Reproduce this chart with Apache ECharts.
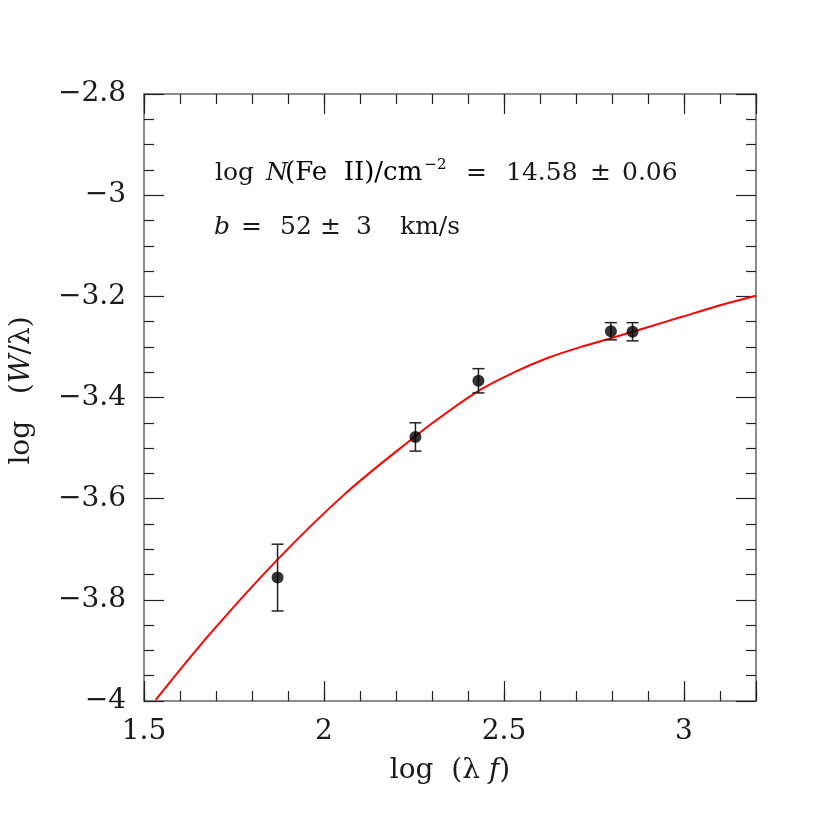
<!DOCTYPE html>
<html style="height: 100%">
  <head>
    <meta charset="utf-8" />
  </head>
  <body style="height: 100%; margin: 0; background: #fff">
    <div id="container" style="width: 830px; height: 830px"></div>

    <script src="https://cdn.jsdelivr.net/npm/echarts@6/dist/echarts.min.js"></script>
    <script type="text/javascript">
      // measured lines (log lambda f, log W/lambda, 1-sigma error)
      var obsX = [1.871, 2.254, 2.429, 2.797, 2.857];
      var obsY = [-3.756, -3.478, -3.367, -3.269, -3.270];
      var obsErr = [0.066, 0.028, 0.024, 0.017, 0.018];

      // curve of growth fit
      var fitX = [1.5325, 1.685, 1.87, 2.056, 2.251, 2.325, 2.436, 2.529, 2.621, 2.714, 2.806, 2.899, 2.992, 3.084, 3.2];
      var fitY = [-3.998, -3.866, -3.721, -3.592, -3.478, -3.438, -3.384, -3.35, -3.322, -3.3, -3.281, -3.261, -3.241, -3.221, -3.199];

      var xMajorTicks = [1.5, 2, 2.5, 3];

      var font = "DejaVu Serif";
      var ink = "#1a1a1a";
      var dom = document.getElementById("container");
      var myChart = echarts.init(dom);

      var points = [];
      for (var i = 0; i < obsX.length; i++) {
        points.push([obsX[i], obsY[i], obsErr[i]]);
      }
      var fit = [];
      for (var j = 0; j < fitX.length; j++) {
        fit.push([fitX[j], fitY[j]]);
      }

      function minus(v) {
        return String(v).replace("-", "\u2212");
      }

      var titleRich = {
        n: { fontFamily: font, fontSize: 28, color: ink },
        i: { fontFamily: font, fontSize: 28, fontStyle: "italic", color: ink },
      };

      function xAx(pos, major, showLabel, withName) {
        var ax = {
          type: "value",
          position: pos,
          min: 1.5,
          max: 3.2,
          interval: major ? 0.5 : 0.1,
          axisLine: { show: major, lineStyle: { color: "#666", width: 1.5 } },
          axisTick: {
            show: true,
            inside: true,
            length: major ? 20 : 10,
            lineStyle: { color: "#222", width: 1.2 },
          },
          splitLine: { show: false },
          axisLabel: {
            show: showLabel,
            margin: 17,
            fontFamily: font,
            fontSize: 28,
            color: ink,
            formatter: function (v) {
              return xMajorTicks.indexOf(Math.round(v * 10) / 10) >= 0 ? String(v) : "";
            },
          },
        };
        if (withName) {
          ax.name = "{n|log  (λ }{i|f}{n|)}";
          ax.nameLocation = "middle";
          ax.nameGap = 56;
          ax.nameTextStyle = { rich: titleRich };
        }
        return ax;
      }

      function yAx(pos, showLabel, withName) {
        var ax = {
          type: "value",
          position: pos,
          min: -4,
          max: -2.8,
          interval: 0.2,
          axisLine: { show: true, lineStyle: { color: "#666", width: 1.5 } },
          axisTick: {
            show: true,
            inside: true,
            length: 20,
            lineStyle: { color: "#222", width: 1.2 },
          },
          minorTick: {
            show: true,
            splitNumber: 4,
            length: 10,
            lineStyle: { color: "#222", width: 1.2 },
          },
          splitLine: { show: false },
          axisLabel: {
            show: showLabel,
            margin: 18,
            fontFamily: font,
            fontSize: 28,
            color: ink,
            formatter: function (v) {
              return minus(Math.round(v * 10) / 10);
            },
          },
        };
        if (withName) {
          ax.name = "{n|log   (}{i|W}{n|/λ)}";
          ax.nameLocation = "middle";
          ax.nameGap = 108;
          ax.nameTextStyle = { rich: titleRich, padding: [0, 0, 0, 14] };
        }
        return ax;
      }

      // annotation pieces placed where they sit in the original
      var noteStyle = { fontFamily: font, fontSize: 25, fill: ink };
      function note(x, y, text, italic) {
        return {
          type: "text",
          x: x,
          y: y,
          style: Object.assign({}, noteStyle, {
            text: text,
            verticalAlign: "middle",
            fontStyle: italic ? "italic" : "normal",
          }),
        };
      }

      var option = {
        animation: false,
        backgroundColor: "#fff",
        grid: { left: 143, top: 94, right: 74, bottom: 129 },
        xAxis: [
          xAx("bottom", true, true, true),
          xAx("bottom", false, false, false),
          xAx("top", true, false, false),
          xAx("top", false, false, false),
        ],
        yAxis: [yAx("left", true, true), yAx("right", false, false)],
        graphic: [
          note(215, 173, "log"),
          note(266, 173, "N", true),
          {
            type: "text",
            x: 285,
            y: 173,
            style: {
              text: "{n|(Fe  II)/cm}{s|−2}",
              verticalAlign: "middle",
              rich: {
                n: { fontFamily: font, fontSize: 26, color: ink, lineHeight: 30 },
                s: { fontFamily: font, fontSize: 15, color: ink, verticalAlign: "top", lineHeight: 30, padding: [0, 0, 0, 2] },
              },
            },
          },
          note(466, 173, "="),
          note(506, 173, "14.58"),
          note(590, 173, "±"),
          note(622, 173, "0.06"),
          note(214, 227, "b", true),
          note(241, 227, "="),
          note(280, 227, "52"),
          note(320, 227, "±"),
          note(356, 227, "3"),
          note(400, 227, "km/s"),
        ],
        series: [
          {
            type: "line",
            data: fit,
            symbol: "none",
            smooth: 0.35,
            xAxisIndex: 0,
            yAxisIndex: 0,
            lineStyle: { color: "#ff0000", width: 2 },
            z: 2,
          },
          {
            type: "custom",
            data: points,
            xAxisIndex: 0,
            yAxisIndex: 0,
            z: 3,
            renderItem: function (params, api) {
              var x = api.value(0);
              var y = api.value(1);
              var e = api.value(2);
              var top = api.coord([x, y + e]);
              var bot = api.coord([x, y - e]);
              var w = 6;
              var st = { stroke: "#222", lineWidth: 1.5 };
              return {
                type: "group",
                children: [
                  { type: "line", shape: { x1: top[0], y1: top[1], x2: bot[0], y2: bot[1] }, style: st },
                  { type: "line", shape: { x1: top[0] - w, y1: top[1], x2: top[0] + w, y2: top[1] }, style: st },
                  { type: "line", shape: { x1: bot[0] - w, y1: bot[1], x2: bot[0] + w, y2: bot[1] }, style: st },
                ],
              };
            },
          },
          {
            type: "scatter",
            data: points,
            xAxisIndex: 0,
            yAxisIndex: 0,
            symbol: "circle",
            symbolSize: 12,
            itemStyle: { color: "#000" },
            z: 4,
          },
        ],
      };

      myChart.setOption(option);
    </script>
  </body>
</html>
